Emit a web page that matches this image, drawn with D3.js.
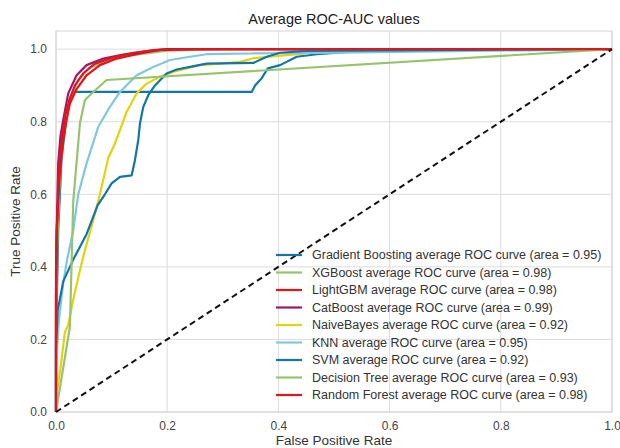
<!DOCTYPE html>
<html>
<head>
<meta charset="utf-8">
<script src="https://cdn.jsdelivr.net/npm/d3@7"></script>
<style>
  body { margin: 0; background: #fff; }
  text { font-family: "Liberation Sans", Arial, sans-serif; }
</style>
</head>
<body>
<svg id="rocChart" width="620" height="448"></svg>
<script>
// [fpr, tpr] points
var gradientBoosting = [[0,0],[0,0.2],[0.004,0.5],[0.01,0.7],[0.018,0.8],[0.025,0.86],[0.031,0.882],[0.352,0.882],[0.358,0.9],[0.37,0.92],[0.381,0.947],[0.403,0.956],[0.433,0.979],[0.469,0.986],[0.55,0.995],[1,1]];
var xgBoost = [[0,0],[0,0.25],[0.003,0.5],[0.008,0.68],[0.015,0.79],[0.024,0.86],[0.04,0.915],[0.06,0.948],[0.09,0.968],[0.13,0.982],[0.2,0.996],[0.3,1],[1,1]];
var lightGbm = [[0,0],[0,0.29],[0.001,0.5],[0.007,0.66],[0.013,0.75],[0.019,0.805],[0.025,0.85],[0.037,0.89],[0.055,0.928],[0.079,0.956],[0.109,0.974],[0.151,0.988],[0.187,0.998],[0.25,1],[1,1]];
var catBoost = [[0,0],[0,0.38],[0.002,0.55],[0.004,0.686],[0.008,0.76],[0.013,0.805],[0.022,0.878],[0.037,0.928],[0.055,0.956],[0.085,0.974],[0.121,0.985],[0.169,0.995],[0.2,1],[1,1]];
var naiveBayes = [[0,0],[0.002,0.06],[0.008,0.12],[0.016,0.22],[0.022,0.24],[0.031,0.31],[0.043,0.39],[0.052,0.446],[0.062,0.5],[0.079,0.6],[0.094,0.7],[0.106,0.74],[0.115,0.777],[0.127,0.827],[0.145,0.878],[0.163,0.905],[0.187,0.924],[0.21,0.937],[0.259,0.956],[0.295,0.96],[0.331,0.965],[0.355,0.975],[0.41,0.983],[0.5,0.995],[1,1]];
var knn = [[0,0],[0,0.12],[0.005,0.25],[0.013,0.355],[0.02,0.42],[0.031,0.5],[0.04,0.6],[0.055,0.685],[0.076,0.786],[0.097,0.841],[0.115,0.882],[0.145,0.928],[0.175,0.951],[0.205,0.97],[0.241,0.979],[0.271,0.986],[0.35,0.988],[0.51,0.99],[1,1]];
var svm = [[0,0],[0,0.17],[0.003,0.28],[0.013,0.36],[0.031,0.42],[0.055,0.49],[0.075,0.57],[0.088,0.6],[0.1,0.63],[0.115,0.648],[0.136,0.652],[0.142,0.694],[0.148,0.75],[0.151,0.795],[0.157,0.841],[0.166,0.873],[0.178,0.9],[0.199,0.933],[0.217,0.944],[0.241,0.951],[0.271,0.96],[0.355,0.962],[0.379,0.979],[0.403,0.99],[0.45,0.995],[1,1]];
var decisionTree = [[0,0],[0.025,0.235],[0.031,0.58],[0.043,0.795],[0.052,0.86],[0.067,0.882],[0.091,0.915],[1,1]];
var randomForest = [[0,0],[0,0.33],[0.002,0.52],[0.006,0.68],[0.011,0.76],[0.017,0.82],[0.024,0.86],[0.034,0.9],[0.05,0.935],[0.07,0.96],[0.1,0.976],[0.14,0.99],[0.18,0.998],[0.24,1],[1,1]];

var modelNames = ["Gradient Boosting", "XGBoost", "LightGBM", "CatBoost", "NaiveBayes", "KNN", "SVM", "Decision Tree", "Random Forest"];
var modelAreas = [0.95, 0.98, 0.98, 0.99, 0.92, 0.95, 0.92, 0.93, 0.98];
var modelCurves = [gradientBoosting, xgBoost, lightGbm, catBoost, naiveBayes, knn, svm, decisionTree, randomForest];
var modelColors = ["#1275ab", "#96c46e", "#e1161b", "#a2166b", "#e5d20f", "#80c8dc", "#1275ab", "#96c46e", "#e1161b"];

var xTicks = [0, 0.2, 0.4, 0.6, 0.8, 1.0];
var yTicks = [0, 0.2, 0.4, 0.6, 0.8, 1.0];

var svg = d3.select("#rocChart"),
  margin = { top: 31, right: 8, bottom: 36, left: 56 },
  width = +svg.attr("width") - margin.left - margin.right,
  height = +svg.attr("height") - margin.top - margin.bottom;

var x = d3.scaleLinear().domain([0, 1]).range([0, width]);
var y = d3.scaleLinear().domain([0, 1.05]).range([height, 0]);

var g = svg
  .append("g")
  .attr("transform", "translate(" + margin.left + "," + margin.top + ")");

// grid
g.selectAll(".vgrid")
  .data(xTicks)
  .enter()
  .append("line")
  .attr("x1", function(d) { return x(d); })
  .attr("x2", function(d) { return x(d); })
  .attr("y1", 0)
  .attr("y2", height)
  .attr("stroke", "#dcdcdc")
  .attr("stroke-width", 1);

g.selectAll(".hgrid")
  .data(yTicks)
  .enter()
  .append("line")
  .attr("x1", 0)
  .attr("x2", width)
  .attr("y1", function(d) { return y(d); })
  .attr("y2", function(d) { return y(d); })
  .attr("stroke", "#dcdcdc")
  .attr("stroke-width", 1);

g.append("rect")
  .attr("width", width)
  .attr("height", height)
  .attr("fill", "none")
  .attr("stroke", "#d4d4d4")
  .attr("stroke-width", 1);

// axes, labels only
var xAxis = g.append("g")
  .attr("transform", "translate(0," + height + ")")
  .call(d3.axisBottom(x).tickValues(xTicks).tickFormat(d3.format(".1f")).tickSize(0).tickPadding(9));
var yAxis = g.append("g")
  .call(d3.axisLeft(y).tickValues(yTicks).tickFormat(d3.format(".1f")).tickSize(0).tickPadding(9));
[xAxis, yAxis].forEach(function(a) {
  a.select(".domain").remove();
  a.selectAll("text")
    .attr("fill", "#444")
    .style("font-size", "12px")
    .style("font-family", "'Liberation Sans', Arial, sans-serif");
});

var line = d3.line()
  .x(function(d) { return x(d[0]); })
  .y(function(d) { return y(d[1]); });

var clip = g.append("clipPath").attr("id", "plotClip");
clip.append("rect").attr("x", -2).attr("y", 0).attr("width", width + 4).attr("height", height + 2);

var curves = g.append("g").attr("clip-path", "url(#plotClip)");

curves.selectAll(".roc")
  .data(modelCurves)
  .enter()
  .append("path")
  .attr("class", "roc")
  .attr("fill", "none")
  .attr("stroke", function(d, i) { return modelColors[i]; })
  .attr("stroke-width", 2.2)
  .attr("stroke-linejoin", "round")
  .attr("d", line);

// chance line
curves.append("path")
  .attr("fill", "none")
  .attr("stroke", "#111")
  .attr("stroke-width", 2)
  .attr("stroke-dasharray", "6,4")
  .attr("d", line([[0, 0], [1, 1]]));

// legend
var legend = g.append("g").attr("transform", "translate(220,224)");
var rows = legend.selectAll(".row")
  .data(modelNames)
  .enter()
  .append("g")
  .attr("transform", function(d, i) { return "translate(0," + i * 17.5 + ")"; });
rows.append("line")
  .attr("x1", 0)
  .attr("x2", 26)
  .attr("stroke", function(d, i) { return modelColors[i]; })
  .attr("stroke-width", 2.2);
rows.append("text")
  .attr("x", 36)
  .attr("dy", "0.35em")
  .attr("fill", "#333")
  .style("font-size", "12.5px")
  .text(function(d, i) {
    return d + " average ROC curve (area = " + modelAreas[i].toFixed(2) + ")";
  });

svg.append("text")
  .attr("x", margin.left + width / 2)
  .attr("y", 24)
  .attr("text-anchor", "middle")
  .attr("fill", "#222")
  .style("font-size", "14.5px")
  .text("Average ROC-AUC values");

svg.append("text")
  .attr("x", margin.left + width / 2)
  .attr("y", 445)
  .attr("text-anchor", "middle")
  .attr("fill", "#333")
  .style("font-size", "13.5px")
  .text("False Positive Rate");

svg.append("text")
  .attr("transform", "translate(20," + (margin.top + height / 2) + ") rotate(-90)")
  .attr("text-anchor", "middle")
  .attr("fill", "#333")
  .style("font-size", "13.5px")
  .text("True Positive Rate");
</script>
</body>
</html>
